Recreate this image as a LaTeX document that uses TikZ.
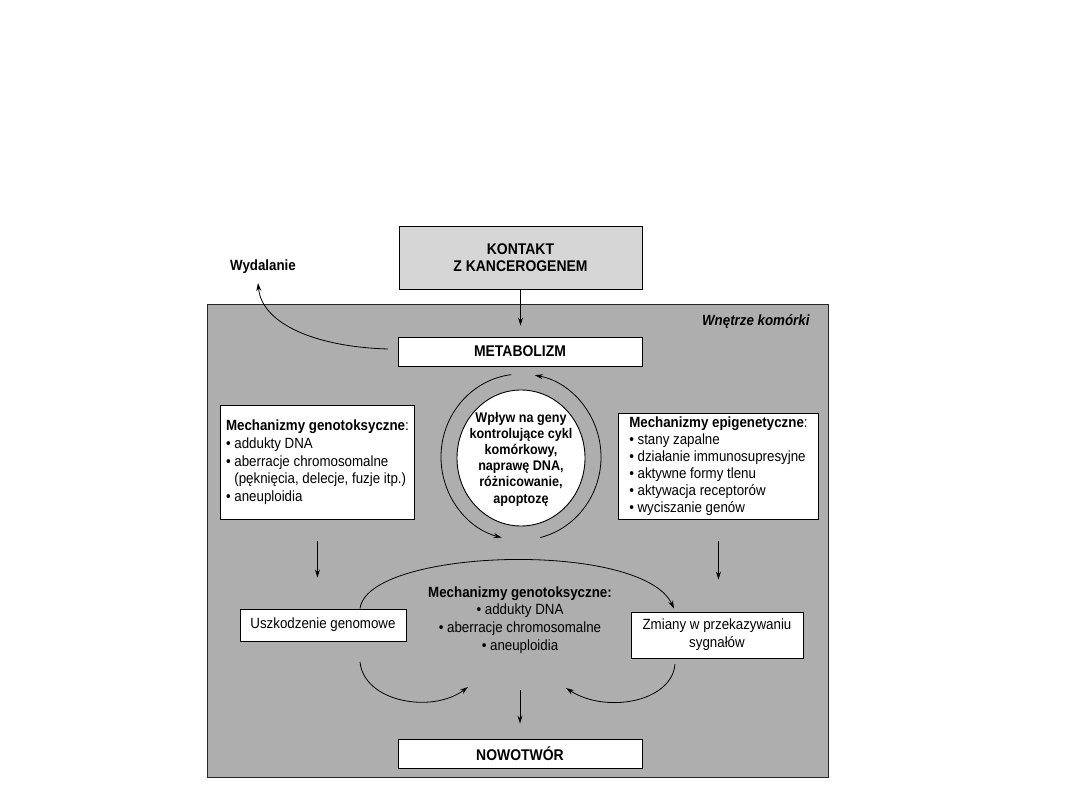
\documentclass[tikz,border=0pt]{standalone}
\usepackage{fontspec}
\setmainfont[FakeStretch=0.9]{Liberation Sans}
\usetikzlibrary{arrows.meta,shapes.geometric}
\definecolor{cellgray}{RGB}{174,174,174}
\definecolor{lightbox}{RGB}{214,214,214}
\newcommand{\mysz}{\fontsize{14.8}{17.7}\selectfont}
\newcommand{\capsz}{\fontsize{15.5}{17}\selectfont}
\begin{document}
\begin{tikzpicture}[x=1pt,y=-1pt,
  every node/.style={font=\mysz},
  box/.style={draw=black, line width=0.9pt, fill=white, inner sep=0pt},
  conn/.style={line width=0.8pt, -{Stealth[length=8pt,width=5pt]}},
  btxt/.style={font=\mysz\bfseries},
  captxt/.style={font=\capsz\bfseries}]
\fill[white] (0,0) rectangle (1080,810);
\useasboundingbox (0,0) rectangle (1080,810);

% cell interior
\node[draw=black!85, line width=0.9pt, fill=cellgray, minimum width=621pt, minimum height=473pt, inner sep=0pt] (cell) at (517.5,540.5) {};
\node[anchor=east, font=\mysz\bfseries\itshape] (wk) at (813,322) {Wnętrze komórki};

% top
\node[box, fill=lightbox, minimum width=243pt, minimum height=63pt, align=center, captxt] (kontakt) at (520.5,257.5) {KONTAKT\\Z KANCEROGENEM};
\node[btxt] (wyd) at (263,267) {Wydalanie};
\node[box, minimum width=244pt, minimum height=29pt, captxt] (metab) at (520,351.5) {METABOLIZM};

\draw[conn, shorten <=1pt, shorten >=11pt] (kontakt.south) -- (kontakt.south |- metab.north);
\coordinate (wstart) at (388,349);
\coordinate (wend) at (258,283);
\draw[conn] (wstart) .. controls (318,347) and (262,325) .. (wend);

% left box
\node[box, anchor=north west, minimum width=194pt, minimum height=114pt, align=left] (lbox) at (220,405)
{\textbf{Mechanizmy genotoksyczne}:\\
• addukty DNA\\
• aberracje chromosomalne\\
\phantom{• }(pęknięcia, delecje, fuzje itp.)\\
• aneuploidia};

% right box
\node[box, anchor=north west, minimum width=200pt, minimum height=106pt, align=left] (rbox) at (618,413)
{\textbf{Mechanizmy epigenetyczne}:\\[-0.7pt]
• stany zapalne\\[-0.7pt]
• działanie immunosupresyjne\\[-0.7pt]
• aktywne formy tlenu\\[-0.7pt]
• aktywacja receptorów\\[-0.7pt]
• wyciszanie genów};

% central circle
\coordinate (ringc) at (521,457);
\node[ellipse, draw=black, line width=0.9pt, fill=white, minimum width=128pt, minimum height=136pt, inner sep=0pt] (circ) at (521,458) {};
\node[align=center, font=\fontsize{14}{16.2}\selectfont\bfseries] (circtxt) at (521,459) {Wpływ na geny\\kontrolujące cykl\\komórkowy,\\naprawę DNA,\\różnicowanie,\\apoptozę};
\draw[conn] ([shift={(-97:80 and 83)}]ringc) arc[start angle=-97, end angle=-256, x radius=80, y radius=83];
\draw[conn] ([shift={(-284:80 and 83)}]ringc) arc[start angle=-284, end angle=-440, x radius=80, y radius=83];

% lower boxes
\node[box, minimum width=166pt, minimum height=32pt] (usz) at (323,625) {Uszkodzenie genomowe};
\node[box, minimum width=172pt, minimum height=46pt, align=center] (zm) at (717,635) {Zmiany w przekazywaniu\\sygnałów};
\node[align=center] (gtx) at (520,620) {\textbf{Mechanizmy genotoksyczne:}\\• addukty DNA\\• aberracje chromosomalne\\• aneuploidia};
\node[box, minimum width=244pt, minimum height=29pt, captxt] (now) at (520,753.5) {NOWOTWÓR};

\draw[conn, shorten <=21pt, shorten >=31pt] (lbox.south) -- (lbox.south |- usz.north);
\draw[conn, shorten <=21pt, shorten >=32pt] (rbox.south) -- (rbox.south |- zm.north);

\draw[conn] ([xshift=37pt]usz.north) .. controls (368,548) and (642,540) .. ([xshift=-43pt,yshift=3pt]zm.north);

\coordinate (bl1) at (360,662);
\coordinate (bl2) at (468,687);
\coordinate (br1) at (675,664);
\coordinate (br2) at (566,688);
\draw[conn] (bl1) .. controls (364,702) and (432,714) .. (bl2);
\draw[conn] (br1) .. controls (672,702) and (606,714) .. (br2);

\draw[conn, shorten >=15pt] (520,690) -- (now.north);
\end{tikzpicture}
\end{document}
